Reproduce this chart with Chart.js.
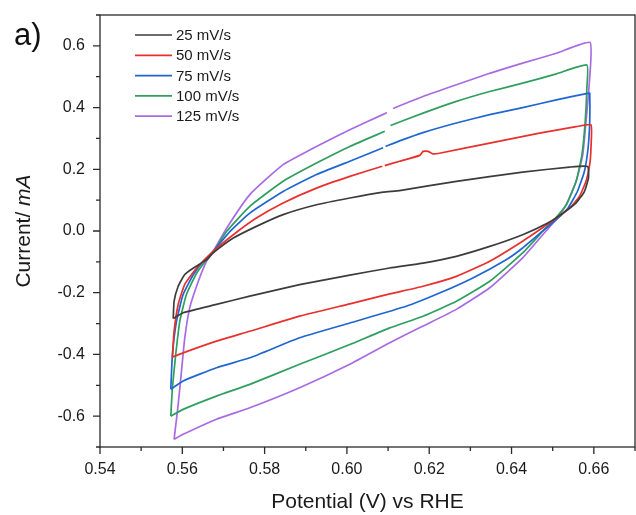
<!DOCTYPE html>
<html>
<head>
<meta charset="utf-8">
<script src="https://cdn.jsdelivr.net/npm/chart.js@4.4.0/dist/chart.umd.min.js"></script>
<style>
  html, body { margin: 0; padding: 0; background: #ffffff; }
  #wrap { width: 636px; height: 515px; }
</style>
</head>
<body>
<div id="wrap"><canvas id="c" width="636" height="515"></canvas></div>
<script>
// ---- data ----
const seriesLabels = ["25 mV/s", "50 mV/s", "75 mV/s", "100 mV/s", "125 mV/s"];
const seriesColors = ["#3c3c3c", "#e8302c", "#1f66d1", "#2f9e5f", "#a86be2"];

const potential25 = [0.5578,0.5580,0.5590,0.5606,0.5627,0.5659,0.5675,0.5724,0.5780,0.5845,0.5926,0.6007,0.6088,0.6128,0.6266,0.6427,0.6541,0.6585,
                     0.6587,0.6577,0.6557,0.6525,0.6488,0.6427,0.6347,0.6266,0.6185,0.6104,0.6007,0.5885,0.5764,0.5683,0.5602,0.5578];
const current25   = [-0.284,-0.228,-0.179,-0.141,-0.120,-0.093,-0.071,-0.023,0.015,0.053,0.085,0.107,0.126,0.131,0.161,0.191,0.207,0.209,
                     0.172,0.128,0.091,0.058,0.026,-0.012,-0.050,-0.082,-0.104,-0.120,-0.143,-0.174,-0.211,-0.238,-0.265,-0.284];

const potential50 = [0.5576,0.5580,0.5590,0.5606,0.5635,0.5675,0.5724,0.5780,0.5845,0.5926,0.6007,0.6086,0.6089,0.6092,0.6128,0.6177,0.6185,0.6197,0.6209,0.6225,0.6347,0.6468,0.6557,0.6593,
                     0.6593,0.6590,0.6581,0.6565,0.6541,0.6509,0.6480,0.6427,0.6347,0.6266,0.6185,0.6104,0.6007,0.5885,0.5764,0.5683,0.5602,0.5576];
const current50   = [-0.409,-0.325,-0.238,-0.173,-0.120,-0.066,-0.012,0.042,0.091,0.139,0.177,0.210,null,0.212,0.226,0.245,0.258,0.258,0.250,0.252,0.285,0.317,0.338,0.344,
                     0.269,0.215,0.161,0.112,0.074,0.042,0.015,-0.033,-0.098,-0.147,-0.179,-0.204,-0.236,-0.276,-0.325,-0.357,-0.395,-0.409];

const potential75 = [0.5572,0.5576,0.5586,0.5602,0.5627,0.5651,0.5675,0.5716,0.5764,0.5845,0.5926,0.6007,0.6088,0.6091,0.6094,0.6128,0.6185,0.6266,0.6347,0.6427,0.6509,0.6588,
                     0.6590,0.6590,0.6586,0.6577,0.6560,0.6537,0.6509,0.6480,0.6427,0.6387,0.6306,0.6225,0.6144,0.6007,0.5885,0.5764,0.5683,0.5602,0.5572];
const current75   = [-0.513,-0.400,-0.292,-0.206,-0.141,-0.098,-0.066,-0.001,0.058,0.128,0.183,0.226,0.270,null,0.274,0.292,0.319,0.350,0.377,0.400,0.425,0.447,
                     0.447,0.355,0.269,0.193,0.128,0.074,0.037,0.005,-0.055,-0.093,-0.152,-0.201,-0.244,-0.298,-0.346,-0.411,-0.443,-0.486,-0.513];

const potential100 = [0.5572,0.5576,0.5584,0.5594,0.5610,0.5635,0.5659,0.5675,0.5708,0.5764,0.5845,0.5926,0.6007,0.6092,0.6098,0.6106,0.6185,0.6266,0.6347,0.6427,0.6509,0.6583,
                      0.6583,0.6579,0.6571,0.6557,0.6533,0.6504,0.6480,0.6427,0.6347,0.6266,0.6185,0.6104,0.6007,0.5885,0.5764,0.5683,0.5602,0.5572];
const current100   = [-0.600,-0.508,-0.400,-0.292,-0.206,-0.136,-0.093,-0.068,-0.001,0.080,0.161,0.220,0.274,0.323,null,0.342,0.382,0.420,0.452,0.479,0.509,0.538,
                      0.463,0.355,0.247,0.161,0.085,0.037,0.005,-0.071,-0.163,-0.228,-0.276,-0.314,-0.368,-0.432,-0.497,-0.535,-0.578,-0.600];

const potential125 = [0.5580,0.5590,0.5598,0.5606,0.5618,0.5639,0.5659,0.5675,0.5708,0.5764,0.5845,0.5926,0.6007,0.6088,0.6097,0.6105,0.6112,0.6185,0.6266,0.6347,0.6427,0.6509,0.6591,
                      0.6588,0.6581,0.6573,0.6557,0.6533,0.6504,0.6476,0.6427,0.6347,0.6266,0.6185,0.6104,0.6007,0.5885,0.5764,0.5683,0.5602,0.5580];
const current125   = [-0.675,-0.562,-0.454,-0.346,-0.249,-0.163,-0.098,-0.066,0.010,0.118,0.215,0.274,0.328,0.378,0.384,null,0.397,0.436,0.474,0.511,0.544,0.576,0.611,
                      0.463,0.355,0.247,0.161,0.085,0.031,-0.012,-0.087,-0.184,-0.254,-0.308,-0.362,-0.432,-0.508,-0.573,-0.610,-0.659,-0.675];

const xTickLabels = ["0.54","0.56","0.58","0.60","0.62","0.64","0.66"];
const yTickLabels = ["-0.6","-0.4","-0.2","0.0","0.2","0.4","0.6"];

// ---- build ----
const potentials = [potential25, potential50, potential75, potential100, potential125];
const currents = [current25, current50, current75, current100, current125];

function toPoints(xs, ys) {
  return xs.map((x, i) => ({ x: x, y: ys[i] }));
}

const datasets = seriesLabels.map((lab, i) => ({
  label: lab,
  data: toPoints(potentials[i], currents[i]),
  borderColor: seriesColors[i],
  backgroundColor: seriesColors[i],
  borderWidth: 1.7,
  pointRadius: 0,
  showLine: true,
  tension: 0.15,
  spanGaps: false,
  fill: false
}));

const FONT = "'Liberation Sans', Arial, sans-serif";
const TXT = "#1a1a1a";
const AXC = "#2a2a2a";

const decorPlugin = {
  id: 'decor',
  afterDraw(chart) {
    const ctx = chart.ctx;
    const a = chart.chartArea;
    const xs = chart.scales.x, ys = chart.scales.y;
    ctx.save();
    // frame
    ctx.strokeStyle = AXC;
    ctx.lineWidth = 1.3;
    ctx.strokeRect(a.left, a.top, a.right - a.left, a.bottom - a.top);
    // x ticks
    ctx.beginPath();
    for (let k = 54; k <= 67; k++) {
      const px = xs.getPixelForValue(k / 100);
      const major = xTickLabels.includes((k / 100).toFixed(2));
      ctx.moveTo(px, a.bottom);
      ctx.lineTo(px, a.bottom + (major ? 7 : 4));
    }
    // y ticks
    for (let k = -7; k <= 7; k++) {
      const py = ys.getPixelForValue(k / 10);
      const major = yTickLabels.includes(k === 0 ? "0.0" : (k / 10).toFixed(1));
      ctx.moveTo(a.left, py);
      ctx.lineTo(a.left - (major ? 7 : 4), py);
    }
    ctx.stroke();

    // y axis title with italic unit
    ctx.fillStyle = TXT;
    ctx.translate(24, ys.getPixelForValue(0));
    ctx.rotate(-Math.PI / 2);
    ctx.textBaseline = 'middle';
    const f1 = "21px " + FONT, f2 = "italic 21px " + FONT;
    ctx.font = f1; const w1 = ctx.measureText("Current/ ").width;
    ctx.font = f2; const w2 = ctx.measureText("mA").width;
    let sx = -(w1 + w2) / 2;
    ctx.textAlign = 'left';
    ctx.font = f1; ctx.fillText("Current/ ", sx, 0);
    ctx.font = f2; ctx.fillText("mA", sx + w1, 0);
    ctx.setTransform(1, 0, 0, 1, 0, 0);

    // panel label
    ctx.font = "31px " + FONT;
    ctx.textAlign = 'left';
    ctx.textBaseline = 'alphabetic';
    ctx.fillStyle = "#111";
    ctx.fillText("a)", 14, 45);

    // legend
    ctx.font = "15px " + FONT;
    ctx.textBaseline = 'middle';
    chart.data.datasets.forEach((ds, i) => {
      const y = 35 + i * 20.3;
      ctx.strokeStyle = ds.borderColor;
      ctx.lineWidth = 1.7;
      ctx.beginPath();
      ctx.moveTo(135, y);
      ctx.lineTo(172, y);
      ctx.stroke();
      ctx.fillStyle = TXT;
      ctx.fillText(ds.label, 176, y + 1);
    });
    ctx.restore();
  }
};

new Chart(document.getElementById('c'), {
  type: 'scatter',
  data: { datasets: datasets },
  options: {
    responsive: false,
    animation: false,
    devicePixelRatio: 1,
    layout: { padding: { top: 15, right: 1, left: 0, bottom: 0 } },
    plugins: { legend: { display: false }, tooltip: { enabled: false } },
    scales: {
      x: {
        type: 'linear',
        min: 0.54, max: 0.67,
        afterFit(scale) { scale.height = 68; scale.paddingLeft = 0; scale.paddingRight = 0; },
        grid: { display: false, drawTicks: false },
        border: { display: false },
        ticks: {
          stepSize: 0.01,
          autoSkip: false,
          maxRotation: 0,
          padding: 13,
          color: TXT,
          font: { family: FONT, size: 16 },
          callback(v) {
            const s = (Math.round(v * 100) / 100).toFixed(2);
            return xTickLabels.includes(s) ? s : '';
          }
        },
        title: {
          display: true,
          text: 'Potential (V) vs RHE',
          color: TXT,
          font: { family: FONT, size: 21 },
          padding: { top: 6, bottom: 0 }
        }
      },
      y: {
        type: 'linear',
        min: -0.7, max: 0.7,
        afterFit(scale) { scale.width = 100; scale.paddingTop = 0; scale.paddingBottom = 0; },
        grid: { display: false, drawTicks: false },
        border: { display: false },
        ticks: {
          stepSize: 0.1,
          autoSkip: false,
          padding: 15,
          color: TXT,
          font: { family: FONT, size: 16 },
          callback(v) {
            const k = Math.round(v * 10);
            const s = k === 0 ? "0.0" : (k / 10).toFixed(1);
            return yTickLabels.includes(s) ? s : '';
          }
        }
      }
    }
  },
  plugins: [decorPlugin]
});
</script>
</body>
</html>
